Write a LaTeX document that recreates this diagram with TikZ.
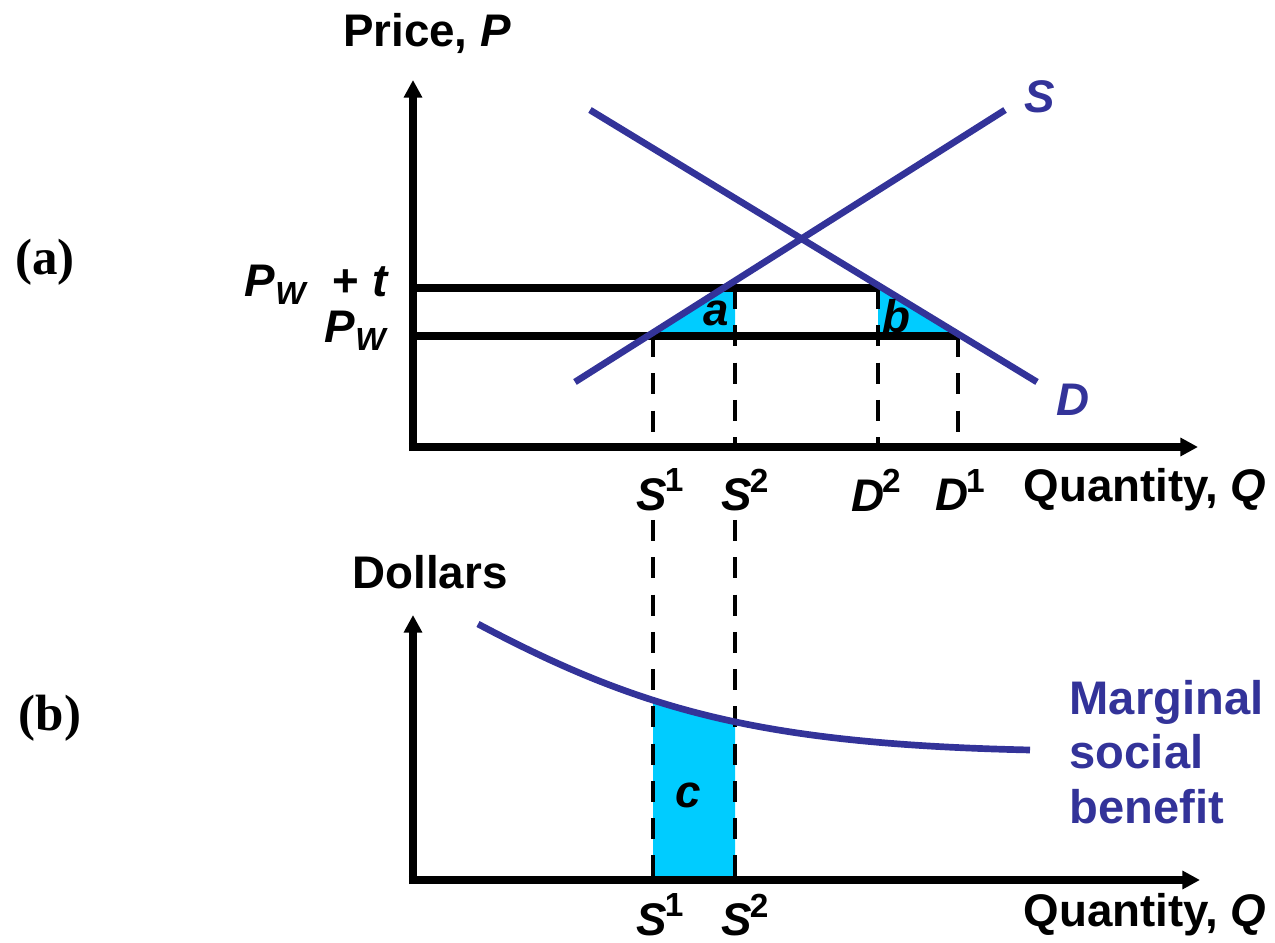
\documentclass[tikz,border=0pt]{standalone}
\usepackage{fontspec}
\setmainfont{Liberation Sans}
\newfontfamily\serifb{Liberation Serif}
\usetikzlibrary{arrows.meta}
\definecolor{navy}{HTML}{333399}
\definecolor{fillc}{HTML}{00CCFF}
\newcommand{\supr}[1]{\kern-0.6pt\raisebox{0.78ex}{\fontsize{9.5}{10}\selectfont\upshape #1}}
\begin{document}
\begin{tikzpicture}[x=0.01cm,y=-0.01cm,
  axis/.style={line width=2.3pt,-{Triangle[width=5pt,length=5pt]}},
  blk/.style={line width=2.3pt},
  curve/.style={line width=1.9pt,navy},
  dsh/.style={line width=1.4pt,dash pattern=on 6pt off 4.6pt},
  lbl/.style={font=\fontsize{13}{15}\selectfont\bfseries,inner sep=0pt},
  blbl/.style={lbl,text=navy},
  plbl/.style={font=\fontsize{14.5}{16}\selectfont\serifb\bfseries,inner sep=0pt}]
\useasboundingbox (0,0) rectangle (1275,943);
% ---------- panel (a) ----------
\fill[fillc] (651,336) -- (735,336) -- (735,288) -- (726,288) -- cycle;
\fill[fillc] (878,336) -- (958,336) -- (881,288) -- (878,288) -- cycle;
\coordinate (s1t) at (653,336); \coordinate (s1b) at (653,447);
\coordinate (s2t) at (735,288); \coordinate (s2b) at (735,447);
\coordinate (d2t) at (878,288); \coordinate (d2b) at (878,447);
\coordinate (d1t) at (958,336); \coordinate (d1b) at (958,447);
\draw[dsh] (s1t) -- (s1b); \draw[dsh] (s2t) -- (s2b);
\draw[dsh] (d2t) -- (d2b); \draw[dsh] (d1t) -- (d1b);
\coordinate (o1) at (413,447);
\coordinate (ya) at (413,80);
\coordinate (xa) at (1198,447);
\coordinate (pwt0) at (413,288); \coordinate (pwt1) at (878,288);
\coordinate (pw0) at (413,336); \coordinate (pw1) at (958,336);
\draw[blk] (pwt0) -- (pwt1);
\draw[blk] (pw0) -- (pw1);
\draw[axis] ([yshift=-1.15pt]o1) -- (ya);
\draw[axis] ([xshift=-1.15pt]o1) -- (xa);
\coordinate (sa) at (575,382); \coordinate (sb) at (1005,110);
\coordinate (da) at (590,110); \coordinate (db) at (1037,382);
\draw[curve] (sa) -- (sb);
\draw[curve] (da) -- (db);
\node[blbl,font=\fontsize{13}{15}\selectfont\bfseries\itshape] (Slab) at (1040,97) {S};
\node[blbl,font=\fontsize{13}{15}\selectfont\bfseries\itshape] (Dlab) at (1073,400) {D};
\node[lbl] (alab) at (716,313) {\itshape a};
\node[lbl] (blab) at (896,316) {\itshape b};
\node[lbl,anchor=base east] (pwtlab) at (388,297) {\itshape P\textsubscript{W}\upshape\ \ + \itshape t};
\node[lbl,anchor=base east] (pwlab) at (388,343) {\itshape P\textsubscript{W}};
\node[lbl] (price) at (427,33) {Price, \itshape P};
\node[plbl] (la) at (45,262) {(a)};
\node[lbl] (q1) at (660,490) {\itshape S\supr{1}};
\node[lbl] (q2) at (745,490) {\itshape S\supr{2}};
\node[lbl] (q3) at (876,490) {\itshape D\supr{2}};
\node[lbl] (q4) at (960,490) {\itshape D\supr{1}};
\node[lbl] (qa) at (1145,490) {Quantity, \itshape Q};
% ---------- panel (b) ----------
\coordinate (m0) at (478,624); \coordinate (m2) at (1030,750);
\begin{scope}
\clip (653,500) rectangle (735,880);
\fill[fillc] (m0) .. controls (640,710) and (760,744) .. (m2) -- (1030,880) -- (478,880) -- cycle;
\end{scope}
\coordinate (s1u) at (653,520); \coordinate (s1v) at (653,880);
\coordinate (s2u) at (735,520); \coordinate (s2v) at (735,880);
\draw[dsh] (s1u) -- (s1v); \draw[dsh] (s2u) -- (s2v);
\coordinate (o2) at (413,880);
\coordinate (yb) at (413,615);
\coordinate (xb) at (1200,880);
\draw[axis] ([yshift=-1.15pt]o2) -- (yb);
\draw[axis] ([xshift=-1.15pt]o2) -- (xb);
\draw[curve] (m0) .. controls (640,710) and (760,744) .. (m2);
\node[lbl] (clab) at (688,795) {\itshape c};
\node[lbl] (dol) at (430,572) {Dollars};
\node[plbl] (lb) at (50,718) {(b)};
\node[blbl,anchor=west,align=left,font=\fontsize{13.4}{15.5}\selectfont\bfseries] (msb) at (1069,752) {Marginal\\social\\benefit};
\node[lbl] (r1) at (660,915) {\itshape S\supr{1}};
\node[lbl] (r2) at (745,915) {\itshape S\supr{2}};
\node[lbl] (qb) at (1145,915) {Quantity, \itshape Q};
\end{tikzpicture}
\end{document}
